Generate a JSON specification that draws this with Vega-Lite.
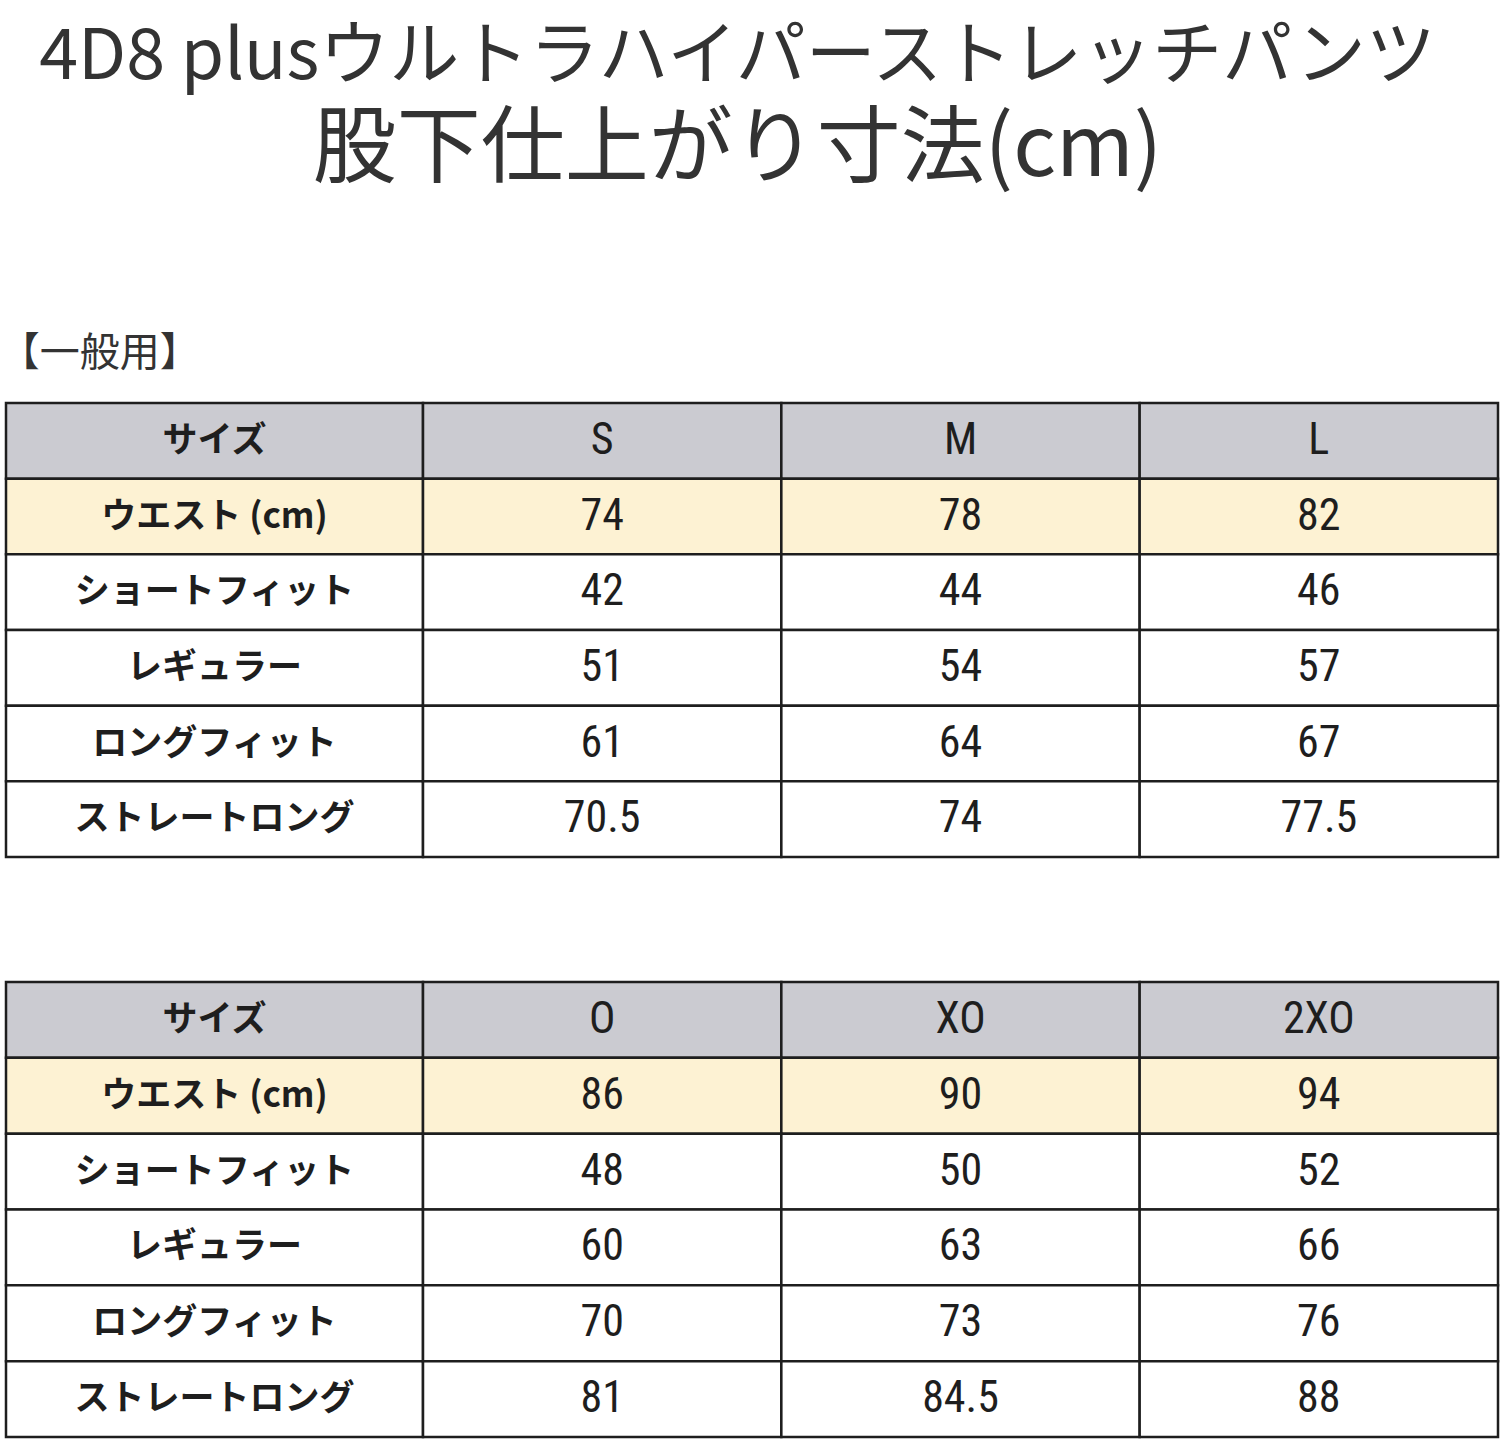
{
  "$schema": "https://vega.github.io/schema/vega-lite/v6.json",
  "background": "white",
  "padding": {"left": -1, "top": 22, "right": 3, "bottom": 2},
  "title": {
    "text": "4D8 plusウルトラハイパーストレッチパンツ",
    "subtitle": "股下仕上がり寸法(cm)",
    "anchor": "middle",
    "dx": -12,
    "font": "Noto Sans CJK JP",
    "fontWeight": "normal",
    "fontSize": 70,
    "color": "#333333",
    "subtitleFont": "Noto Sans CJK JP",
    "subtitleFontSize": 84,
    "subtitleColor": "#333333",
    "subtitlePadding": 16,
    "offset": 140
  },
  "datasets": {
    "cells": [
      {"t": "A", "r": "サイズ", "c": "S", "v": "S"},
      {"t": "A", "r": "サイズ", "c": "M", "v": "M"},
      {"t": "A", "r": "サイズ", "c": "L", "v": "L"},
      {"t": "A", "r": "ウエスト (cm)", "c": "S", "v": "74"},
      {"t": "A", "r": "ウエスト (cm)", "c": "M", "v": "78"},
      {"t": "A", "r": "ウエスト (cm)", "c": "L", "v": "82"},
      {"t": "A", "r": "ショートフィット", "c": "S", "v": "42"},
      {"t": "A", "r": "ショートフィット", "c": "M", "v": "44"},
      {"t": "A", "r": "ショートフィット", "c": "L", "v": "46"},
      {"t": "A", "r": "レギュラー", "c": "S", "v": "51"},
      {"t": "A", "r": "レギュラー", "c": "M", "v": "54"},
      {"t": "A", "r": "レギュラー", "c": "L", "v": "57"},
      {"t": "A", "r": "ロングフィット", "c": "S", "v": "61"},
      {"t": "A", "r": "ロングフィット", "c": "M", "v": "64"},
      {"t": "A", "r": "ロングフィット", "c": "L", "v": "67"},
      {"t": "A", "r": "ストレートロング", "c": "S", "v": "70.5"},
      {"t": "A", "r": "ストレートロング", "c": "M", "v": "74"},
      {"t": "A", "r": "ストレートロング", "c": "L", "v": "77.5"},
      {"t": "B", "r": "サイズ", "c": "O", "v": "O"},
      {"t": "B", "r": "サイズ", "c": "XO", "v": "XO"},
      {"t": "B", "r": "サイズ", "c": "2XO", "v": "2XO"},
      {"t": "B", "r": "ウエスト (cm)", "c": "O", "v": "86"},
      {"t": "B", "r": "ウエスト (cm)", "c": "XO", "v": "90"},
      {"t": "B", "r": "ウエスト (cm)", "c": "2XO", "v": "94"},
      {"t": "B", "r": "ショートフィット", "c": "O", "v": "48"},
      {"t": "B", "r": "ショートフィット", "c": "XO", "v": "50"},
      {"t": "B", "r": "ショートフィット", "c": "2XO", "v": "52"},
      {"t": "B", "r": "レギュラー", "c": "O", "v": "60"},
      {"t": "B", "r": "レギュラー", "c": "XO", "v": "63"},
      {"t": "B", "r": "レギュラー", "c": "2XO", "v": "66"},
      {"t": "B", "r": "ロングフィット", "c": "O", "v": "70"},
      {"t": "B", "r": "ロングフィット", "c": "XO", "v": "73"},
      {"t": "B", "r": "ロングフィット", "c": "2XO", "v": "76"},
      {"t": "B", "r": "ストレートロング", "c": "O", "v": "81"},
      {"t": "B", "r": "ストレートロング", "c": "XO", "v": "84.5"},
      {"t": "B", "r": "ストレートロング", "c": "2XO", "v": "88"}
    ]
  },
  "spacing": 121,
  "vconcat": [
    {
      "title": {"text": "【一般用】", "anchor": "start", "dx": -5, "font": "Noto Sans CJK JP", "fontWeight": "normal", "fontSize": 40, "color": "#333333", "offset": 28},
      "bounds": "flush",
      "spacing": 0,
      "hconcat": [
        {
          "width": 417, "height": 454,
          "data": {"name": "cells"},
          "transform": [{"filter": "datum.t == 'A' && datum.c == 'S'"}],
          "encoding": {
            "x": {"field": "t", "type": "nominal", "axis": null, "scale": {"paddingInner": 0, "paddingOuter": 0}},
            "y": {"field": "r", "type": "nominal", "sort": null, "axis": null, "scale": {"paddingInner": 0, "paddingOuter": 0}}
          },
          "layer": [
            {"mark": {"type": "rect", "stroke": "#1e1e1e", "strokeWidth": 2.5},
             "encoding": {"fill": {"field": "r", "type": "nominal", "legend": null, "scale": {"domain": ["サイズ", "ウエスト (cm)", "ショートフィット", "レギュラー", "ロングフィット", "ストレートロング"], "range": ["#cbcbd1", "#fdf2d3", "#ffffff", "#ffffff", "#ffffff", "#ffffff"]}}}},
            {"mark": {"type": "text", "font": "Noto Sans CJK JP", "fontWeight": "bold", "fontSize": 35, "color": "#1e1e1e"},
             "encoding": {"text": {"field": "r"}}}
          ]
        },
        {
          "width": 1075, "height": 454,
          "data": {"name": "cells"},
          "transform": [{"filter": "datum.t == 'A'"}],
          "encoding": {
            "x": {"field": "c", "type": "nominal", "sort": null, "axis": null, "scale": {"paddingInner": 0, "paddingOuter": 0}},
            "y": {"field": "r", "type": "nominal", "sort": null, "axis": null, "scale": {"paddingInner": 0, "paddingOuter": 0}}
          },
          "layer": [
            {"mark": {"type": "rect", "stroke": "#1e1e1e", "strokeWidth": 2.5},
             "encoding": {"fill": {"field": "r", "type": "nominal", "legend": null, "scale": {"domain": ["サイズ", "ウエスト (cm)", "ショートフィット", "レギュラー", "ロングフィット", "ストレートロング"], "range": ["#cbcbd1", "#fdf2d3", "#ffffff", "#ffffff", "#ffffff", "#ffffff"]}}}},
            {"mark": {"type": "text", "font": "Liberation Sans Narrow, Roboto Condensed, DejaVu Sans Condensed, sans-serif", "fontSize": 44, "color": "#1e1e1e"},
             "encoding": {"text": {"field": "v"}}}
          ]
        }
      ]
    },
    {
      "bounds": "flush",
      "spacing": 0,
      "hconcat": [
        {
          "width": 417, "height": 455,
          "data": {"name": "cells"},
          "transform": [{"filter": "datum.t == 'B' && datum.c == 'O'"}],
          "encoding": {
            "x": {"field": "t", "type": "nominal", "axis": null, "scale": {"paddingInner": 0, "paddingOuter": 0}},
            "y": {"field": "r", "type": "nominal", "sort": null, "axis": null, "scale": {"paddingInner": 0, "paddingOuter": 0}}
          },
          "layer": [
            {"mark": {"type": "rect", "stroke": "#1e1e1e", "strokeWidth": 2.5},
             "encoding": {"fill": {"field": "r", "type": "nominal", "legend": null, "scale": {"domain": ["サイズ", "ウエスト (cm)", "ショートフィット", "レギュラー", "ロングフィット", "ストレートロング"], "range": ["#cbcbd1", "#fdf2d3", "#ffffff", "#ffffff", "#ffffff", "#ffffff"]}}}},
            {"mark": {"type": "text", "font": "Noto Sans CJK JP", "fontWeight": "bold", "fontSize": 35, "color": "#1e1e1e"},
             "encoding": {"text": {"field": "r"}}}
          ]
        },
        {
          "width": 1075, "height": 455,
          "data": {"name": "cells"},
          "transform": [{"filter": "datum.t == 'B'"}],
          "encoding": {
            "x": {"field": "c", "type": "nominal", "sort": null, "axis": null, "scale": {"paddingInner": 0, "paddingOuter": 0}},
            "y": {"field": "r", "type": "nominal", "sort": null, "axis": null, "scale": {"paddingInner": 0, "paddingOuter": 0}}
          },
          "layer": [
            {"mark": {"type": "rect", "stroke": "#1e1e1e", "strokeWidth": 2.5},
             "encoding": {"fill": {"field": "r", "type": "nominal", "legend": null, "scale": {"domain": ["サイズ", "ウエスト (cm)", "ショートフィット", "レギュラー", "ロングフィット", "ストレートロング"], "range": ["#cbcbd1", "#fdf2d3", "#ffffff", "#ffffff", "#ffffff", "#ffffff"]}}}},
            {"mark": {"type": "text", "font": "Liberation Sans Narrow, Roboto Condensed, DejaVu Sans Condensed, sans-serif", "fontSize": 44, "color": "#1e1e1e"},
             "encoding": {"text": {"field": "v"}}}
          ]
        }
      ]
    }
  ],
  "config": {"view": {"stroke": null}}
}
